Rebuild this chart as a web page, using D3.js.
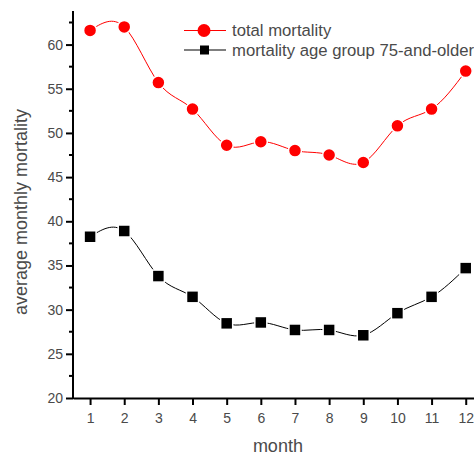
<!DOCTYPE html>
<html>
<head>
<meta charset="utf-8">
<script src="https://cdn.jsdelivr.net/npm/d3@7"></script>
<style>
  html, body { margin: 0; padding: 0; background: #fff; }
  svg { display: block; }
  text { font-family: "Liberation Sans", Arial, sans-serif; fill: #4a4a4a; }
</style>
</head>
<body>
<svg id="chart" width="474" height="455"></svg>
<script>
// Average monthly mortality by month
const months = [1, 2, 3, 4, 5, 6, 7, 8, 9, 10, 11, 12];
const totalMortality = [61.6, 62.0, 55.7, 52.7, 48.6, 49.0, 48.0, 47.5, 46.65, 50.8, 52.7, 57.0];
const olderMortality = [38.25, 38.9, 33.8, 31.45, 28.45, 28.55, 27.7, 27.7, 27.1, 29.6, 31.45, 34.7];
const yTicks = [20, 25, 30, 35, 40, 45, 50, 55, 60];
const yMinorTicks = [22.5, 27.5, 32.5, 37.5, 42.5, 47.5, 52.5, 57.5, 62.5];
const seriesNames = ["total mortality", "mortality age group 75-and-older"];

const svg = d3.select("#chart");

const x = d3.scaleLinear().domain([0.5, 12.5]).range([73, 482.8]);
const y = d3.scaleLinear().domain([20, 63.8]).range([398, 11]);

// Axes
const xAxis = d3.axisBottom(x).tickValues(months).tickFormat(d3.format("d"))
  .tickSizeInner(7).tickSizeOuter(0).tickPadding(8);
const yAxis = d3.axisLeft(y).tickValues(yTicks).tickFormat(d3.format("d"))
  .tickSizeInner(7).tickSizeOuter(0).tickPadding(3);

const gx = svg.append("g").attr("transform", "translate(0,398)").call(xAxis);
const gy = svg.append("g").attr("transform", "translate(73,0)").call(yAxis);

[gx, gy].forEach(g => {
  g.select(".domain").attr("stroke", "#000").attr("stroke-width", 2);
  g.selectAll(".tick line").attr("stroke", "#000").attr("stroke-width", 2);
  g.selectAll(".tick text").style("font-size", "14px").attr("fill", "#4a4a4a")
    .style("font-family", "'Liberation Sans', Arial, sans-serif");
});
gy.select(".domain").attr("d", `M0,${y(20) + 1}V${y(63.8)}`);

// Minor y ticks
gy.selectAll(".minor").data(yMinorTicks).enter().append("line")
  .attr("class", "minor")
  .attr("x1", -4).attr("x2", 0)
  .attr("y1", d => y(d)).attr("y2", d => y(d))
  .attr("stroke", "#000").attr("stroke-width", 2);

// Axis titles
svg.append("text")
  .attr("x", x(6.5)).attr("y", 452)
  .attr("text-anchor", "middle")
  .style("font-size", "18px")
  .text("month");

svg.append("text")
  .attr("transform", `translate(27,212) rotate(-90)`)
  .attr("text-anchor", "middle")
  .style("font-size", "18px")
  .text("average monthly mortality");

// Series
const line = d3.line().x((d, i) => x(months[i])).y(d => y(d)).curve(d3.curveNatural);

svg.append("path").datum(totalMortality)
  .attr("d", line).attr("fill", "none").attr("stroke", "#ff0000").attr("stroke-width", 1);
svg.append("path").datum(olderMortality)
  .attr("d", line).attr("fill", "none").attr("stroke", "#000").attr("stroke-width", 1);

svg.selectAll(".pt-total").data(totalMortality).enter().append("circle")
  .attr("cx", (d, i) => x(months[i])).attr("cy", d => y(d)).attr("r", 6.5)
  .attr("fill", "#ff0000").attr("stroke", "#fff").attr("stroke-width", 1.5);

svg.selectAll(".pt-older").data(olderMortality).enter().append("rect")
  .attr("x", (d, i) => x(months[i]) - 6).attr("y", d => y(d) - 6)
  .attr("width", 12).attr("height", 12)
  .attr("fill", "#000").attr("stroke", "#fff").attr("stroke-width", 1.5);

// Legend
const legend = svg.append("g");
const legendRows = [
  { name: seriesNames[0], color: "#ff0000", shape: "circle", y: 30.5 },
  { name: seriesNames[1], color: "#000", shape: "square", y: 50 }
];
legendRows.forEach(r => {
  legend.append("line").attr("x1", 184).attr("x2", 226)
    .attr("y1", r.y).attr("y2", r.y).attr("stroke", r.color).attr("stroke-width", 1.1);
  if (r.shape === "circle") {
    legend.append("circle").attr("cx", 204).attr("cy", r.y).attr("r", 6.5).attr("fill", r.color);
  } else {
    legend.append("rect").attr("x", 200).attr("y", r.y - 4.5).attr("width", 9).attr("height", 9).attr("fill", r.color);
  }
  legend.append("text").attr("x", 232).attr("y", r.y + 5.5)
    .style("font-size", "16.7px").text(r.name);
});
</script>
</body>
</html>
